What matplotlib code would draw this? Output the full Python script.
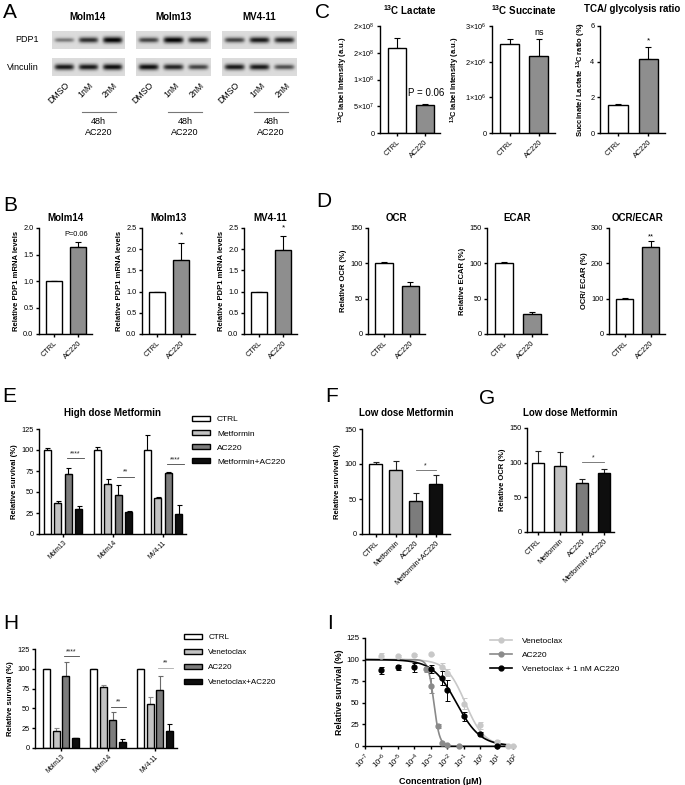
import numpy as np
import matplotlib.pyplot as plt
from matplotlib.lines import Line2D
from matplotlib.patches import Patch

plt.rcParams['font.family'] = ['Liberation Sans', 'DejaVu Sans']
plt.rcParams['mathtext.fontset'] = 'custom'
plt.rcParams['mathtext.rm'] = 'Liberation Sans'
plt.rcParams['mathtext.bf'] = 'Liberation Sans:bold'
plt.rcParams['mathtext.it'] = 'Liberation Sans:italic'
plt.rcParams['axes.linewidth'] = 1.0

# ---- A: western blots (band darkness per lane) ----
blot_cells = ['Molm14', 'Molm13', 'MV4-11']
blot_lanes = ['DMSO', '1nM', '2nM']
pdp1_bands = [[0.45, 0.8, 1.0], [0.7, 1.0, 0.85], [0.7, 0.9, 0.85]]
vinc_bands = [[0.9, 0.9, 0.95], [0.95, 0.85, 0.7], [0.9, 0.9, 0.65]]

# ---- B: PDP1 mRNA ----
two_groups = ['CTRL', 'AC220']
b_molm14 = [1.0, 1.65]
b_molm14_err = [0.0, 0.08]
b_molm13 = [1.0, 1.74]
b_molm13_err = [0.0, 0.41]
b_mv411 = [1.0, 1.97]
b_mv411_err = [0.0, 0.34]
b_notes = ['P=0.06', '*', '*']

# ---- C: 13C tracing ----
c_lactate = [1.58e8, 5.2e7]
c_lactate_err = [1.9e7, 2.5e6]
c_lactate_ticks = [0, 5e7, 1e8, 1.5e8, 2e8]
c_lactate_ticklabels = ['0', r'$5{\times}10^{7}$', r'$1{\times}10^{8}$',
                        r'$2{\times}10^{8}$', r'$2{\times}10^{8}$']
c_succinate = [2.5e6, 2.17e6]
c_succinate_err = [1.4e5, 4.7e5]
c_succinate_ticks = [0, 1e6, 2e6, 3e6]
c_succinate_ticklabels = ['0', r'$1{\times}10^{6}$', r'$2{\times}10^{6}$', r'$3{\times}10^{6}$']
c_ratio = [1.55, 4.15]
c_ratio_err = [0.08, 0.7]

# ---- D: Seahorse ----
d_ocr = [100, 68]
d_ocr_err = [2, 5]
d_ecar = [100, 28]
d_ecar_err = [2.5, 3]
d_ratio = [98, 245]
d_ratio_err = [3, 17]

# ---- E: high dose metformin ----
cells = ['Molm13', 'Molm14', 'MV4-11']
e_series = ['CTRL', 'Metformin', 'AC220', 'Metformin+AC220']
e_ctrl = [100, 100, 100]
e_ctrl_err = [2, 3, 18]
e_met = [37, 60, 43]
e_met_err = [2.5, 5, 1.5]
e_ac = [72, 47, 73]
e_ac_err = [7, 11, 1]
e_combo = [30, 26, 24]
e_combo_err = [3.5, 1, 10]
e_sig = ['****', '**', '****']
e_sig_y = [90, 68, 83]

# ---- F / G: low dose metformin ----
fg_labels = ['CTRL', 'Metformin', 'AC220', 'Metformin+AC220']
f_vals = [100, 92, 47, 72]
f_err = [3.5, 12, 11, 12]
g_vals = [100, 95, 70, 85]
g_err = [17, 21, 7, 5.5]

# ---- H: venetoclax ----
h_series = ['CTRL', 'Venetoclax', 'AC220', 'Venetoclax+AC220']
h_ctrl = [100, 100, 100]
h_ctrl_err = [0, 0, 0]
h_ven = [21, 77, 55]
h_ven_err = [4, 2, 10]
h_ac = [91, 35, 73]
h_ac_err = [18, 10, 18]
h_combo = [12, 7, 21]
h_combo_err = [1, 4, 9]
h_sig = ['****', '**', '**']
h_sig_y = [116, 52, 101]

# ---- I: dose response ----
i_ven_x = [1e-6, 1e-5, 1e-4, 1e-3, 5e-3, 1e-2, 1e-1, 1, 10, 50, 100]
i_ven_y = [104.7, 104, 105.5, 106, 91.5, 85, 49, 24, 5, 0, 0]
i_ven_e = [3, 1, 1, 1, 5, 4, 6, 4, 1.5, 0, 0]
i_ac_x = [5e-4, 1e-3, 2.5e-3, 5e-3, 1e-2, 5e-2]
i_ac_y = [89, 70, 23, 3, 1, 0]
i_ac_e = [3, 9, 2, 1, 0, 0]
i_combo_x = [1e-6, 1e-5, 1e-4, 1e-3, 5e-3, 1e-2, 1e-1, 1, 10]
i_combo_y = [87.5, 91, 91, 89, 79, 64.5, 34.4, 13.7, 0.5]
i_combo_e = [4, 3, 5, 5, 8, 12, 5, 2, 0.5]
# fitted IC50 (uM) and hill slope
i_fits = {'Venetoclax': (0.12, 0.75), 'AC220': (1.5e-3, 2.5), 'Venetoclax + 1 nM AC220': (0.035, 0.6)}

W, H = 685, 785
fig = plt.figure(figsize=(W / 100, H / 100), dpi=100)


def box(l, t, r, b):
    return fig.add_axes([l / W, 1 - b / H, (r - l) / W, (b - t) / H])


def ftext(x, y, s, **kw):
    fig.text(x / W, 1 - y / H, s, **kw)


def style(ax, fs=5.3):
    for s in ['top', 'right']:
        ax.spines[s].set_visible(False)
    ax.tick_params(axis='both', labelsize=fs, length=2.5, width=1.0, pad=1.5)


def bars2(ax, vals, errs, ymax, yticks, ylab, title, pad=5):
    x = np.arange(2)
    ax.bar(x, vals, width=0.65, color=['white', '#8e8e8e'], edgecolor='k', linewidth=1.0, zorder=2)
    ax.errorbar(x, vals, yerr=[np.zeros(2), errs], fmt='none', ecolor='k',
                elinewidth=0.8, capsize=2.5, capthick=0.8, zorder=1)
    ax.set_xlim(-0.6, 1.55)
    ax.set_ylim(0, ymax)
    ax.set_yticks(yticks)
    ax.set_xticks(x)
    ax.set_xticklabels(two_groups, rotation=45, ha='right', rotation_mode='anchor')
    style(ax)
    ax.set_ylabel(ylab, fontsize=5.5, fontweight='bold', labelpad=2)
    ax.set_title(title, fontsize=7, fontweight='bold', pad=pad)


# panel letters
for letter, (lx, ly) in {'A': (3, 3), 'B': (3, 196), 'C': (315, 3), 'D': (316, 192),
                         'E': (2, 387), 'F': (325, 387), 'G': (479, 389), 'H': (3, 614),
                         'I': (327, 614)}.items():
    ftext(lx, ly, letter, fontsize=15, va='top')

# ---- A ----
blot_x = [(52, 124), (136, 211), (222, 297)]
ftext(27, 40, 'PDP1', fontsize=6.5, ha='center', va='center')
ftext(23, 68, 'Vinculin', fontsize=6.5, ha='center', va='center')
xx = np.linspace(0, 3, 150)
yy = np.linspace(0, 1, 30)
X, Y = np.meshgrid(xx, yy)
for k, cell in enumerate(blot_cells):
    l, r = blot_x[k]
    ftext((l + r) / 2, 17, cell, fontsize=7, fontweight='bold', ha='center', va='center')
    for bands, (t, b) in [(pdp1_bands[k], (31, 49)), (vinc_bands[k], (58, 76))]:
        ax = box(l, t, r, b)
        img = np.full(X.shape, 0.86)
        for i, v in enumerate(bands):
            hx = np.exp(-((X - (i + 0.5)) / 0.4) ** 6)
            hy = np.exp(-((Y - 0.5) / (0.08 + 0.1 * v)) ** 2)
            img -= 0.85 * v * hx * hy
        ax.imshow(np.clip(img, 0, 1), cmap='gray', vmin=0, vmax=1, aspect='auto',
                  extent=(0, 3, 0, 1), interpolation='bilinear')
        ax.axis('off')
    lane_w = (r - l) / 3
    for i, lane in enumerate(blot_lanes):
        ftext(l + (i + 0.5) * lane_w + 4, 84, lane, fontsize=6.3, rotation=45,
              ha='right', va='center', rotation_mode='anchor')
    x0 = l + 1.5 * lane_w - 6
    x1 = r - 0.35 * lane_w
    fig.add_artist(Line2D([x0 / W, x1 / W], [1 - 112 / H, 1 - 112 / H], color='#777777', lw=0.8))
    ftext((x0 + x1) / 2, 117, '48h\nAC220', fontsize=6.5, ha='center', va='top', linespacing=1.3)

# ---- B ----
b_sets = [(b_molm14, b_molm14_err, 2.0, 'Molm14', (39, 92)),
          (b_molm13, b_molm13_err, 2.5, 'Molm13', (142, 195)),
          (b_mv411, b_mv411_err, 2.5, 'MV4-11', (244, 297))]
for k, (vals, errs, ymax, name, (l, r)) in enumerate(b_sets):
    ax = box(l, 228, r, 334)
    bars2(ax, vals, errs, ymax, np.arange(0, ymax + 0.01, 0.5),
          'Relative PDP1 mRNA levels', name, pad=5)
    ax.yaxis.set_major_formatter(plt.FormatStrFormatter('%.1f'))
    note = b_notes[k]
    ny = vals[1] + errs[1] + ymax * 0.04
    ax.text(1 if note != 'P=0.06' else 0.9, ny, note, fontsize=5.3 if note != '*' else 6,
            ha='center', va='bottom')

# ---- C ----
ax = box(380, 26, 440, 133)
bars2(ax, c_lactate, c_lactate_err, 2e8, c_lactate_ticks,
      r'$^{\mathbf{13}}$C label Intensity (a.u.)', r'$^{\mathbf{13}}$C Lactate', pad=8)
ax.set_yticklabels(c_lactate_ticklabels)
ax.text(1.05, 7.5e7, 'P = 0.06', fontsize=7, ha='center', va='center')

ax = box(492, 26, 555, 133)
bars2(ax, c_succinate, c_succinate_err, 3e6, c_succinate_ticks,
      r'$^{\mathbf{13}}$C label Intensity (a.u.)', r'$^{\mathbf{13}}$C Succinate', pad=8)
ax.set_yticklabels(c_succinate_ticklabels)
ax.text(1, c_succinate[1] + c_succinate_err[1] + 0.06e6, 'ns', fontsize=6.5, ha='center', va='bottom')

ax = box(600, 26, 665, 133)
bars2(ax, c_ratio, c_ratio_err, 6, [0, 2, 4, 6],
      r'Succinate/ Lactate $^{\mathbf{13}}$C ratio (%)', 'TCA/ glycolysis ratio', pad=10)
ax.text(1, c_ratio[1] + c_ratio_err[1] + 0.1, '*', fontsize=6, ha='center', va='bottom')

# ---- D ----
ax = box(368, 228, 425, 334)
bars2(ax, d_ocr, d_ocr_err, 150, [0, 50, 100, 150], 'Relative OCR (%)', 'OCR')
ax = box(487, 228, 547, 334)
bars2(ax, d_ecar, d_ecar_err, 150, [0, 50, 100, 150], 'Relative ECAR (%)', 'ECAR')
ax = box(609, 228, 665, 334)
bars2(ax, d_ratio, d_ratio_err, 300, [0, 100, 200, 300], 'OCR/ ECAR (%)', 'OCR/ECAR')
ax.text(1, d_ratio[1] + d_ratio_err[1] + 3, '**', fontsize=5.5, ha='center', va='bottom')

four_colors = ['white', '#c2c2c2', '#7c7c7c', '#0e0e0e']


def grouped(ax, series, errs, offs_step, width, xlim, ecolors):
    x = np.arange(3)
    for i, (vals, er) in enumerate(zip(series, errs)):
        xi = x + (i - 1.5) * offs_step
        ax.bar(xi, vals, width=width, color=four_colors[i], edgecolor='k', linewidth=1.0, zorder=2)
        ax.errorbar(xi, vals, yerr=[np.zeros(3), er], fmt='none', ecolor=ecolors[i],
                    elinewidth=0.8, capsize=1.8, capthick=0.8, zorder=1)
    ax.set_xlim(*xlim)
    ax.set_ylim(0, 125)
    ax.set_yticks([0, 25, 50, 75, 100, 125])
    ax.set_xticks(x)
    ax.set_xticklabels(cells, rotation=45, ha='right', rotation_mode='anchor')
    style(ax)
    ax.tick_params(axis='x', labelsize=4.7)
    ax.set_ylabel('Relative survival (%)', fontsize=5.5, fontweight='bold', labelpad=2)


def sig(ax, x0, x1, y, s, color='#444444'):
    ax.plot([x0, x1], [y, y], color=color, lw=0.6)
    ax.text((x0 + x1) / 2, y + 1.5, s, fontsize=5, ha='center', va='bottom', color='#222222')


# ---- E ----
ax = box(39, 429, 186, 534)
grouped(ax, [e_ctrl, e_met, e_ac, e_combo], [e_ctrl_err, e_met_err, e_ac_err, e_combo_err],
        0.213, 0.14, (-0.48, 2.46), ['k', 'k', 'k', 'k'])
ax.set_title('High dose Metformin', fontsize=7, fontweight='bold', pad=9)
for g in range(3):
    sig(ax, g + 0.08, g + 0.42, e_sig_y[g], e_sig[g])
fig.legend([Patch(facecolor=c, edgecolor='k', lw=1.0) for c in four_colors], e_series,
           loc='upper left', bbox_to_anchor=(192 / W, 1 - 416 / H), frameon=False, fontsize=6,
           handlelength=2.2, handleheight=0.55, labelspacing=0.8, handletextpad=0.8,
           borderaxespad=0, borderpad=0)

# ---- F / G ----


def four_bars(ax, vals, errs, width, xlim, ylab):
    x = np.arange(4)
    ax.bar(x, vals, width=width, color=four_colors, edgecolor='k', linewidth=1.0, zorder=2)
    ax.errorbar(x, vals, yerr=[np.zeros(4), errs], fmt='none', ecolor='#222222',
                elinewidth=0.8, capsize=2.5, capthick=0.8, zorder=1)
    ax.set_xlim(*xlim)
    ax.set_ylim(0, 150)
    ax.set_yticks([0, 50, 100, 150])
    ax.set_xticks(x)
    ax.set_xticklabels(fg_labels, rotation=45, ha='right', rotation_mode='anchor')
    style(ax)
    ax.set_ylabel(ylab, fontsize=5.5, fontweight='bold', labelpad=2)
    ax.set_title('Low dose Metformin', fontsize=7, fontweight='bold', pad=9)


ax = box(362, 429, 450, 534)
four_bars(ax, f_vals, f_err, 0.65, (-0.68, 3.72), 'Relative survival (%)')
sig(ax, 2, 3, 91, '*', color='#666666')
ax = box(527, 428, 614, 532)
four_bars(ax, g_vals, g_err, 0.57, (-0.5, 3.45), 'Relative OCR (%)')
sig(ax, 2, 3, 101, '*', color='#666666')

# ---- H ----
ax = box(35, 649, 177, 748)
grouped(ax, [h_ctrl, h_ven, h_ac, h_combo], [h_ctrl_err, h_ven_err, h_ac_err, h_combo_err],
        0.205, 0.15, (-0.55, 2.47), ['k', '#8a8a8a', '#6a6a6a', 'k'])
for g in range(3):
    sig(ax, g + 0.06, g + 0.38, h_sig_y[g], h_sig[g], color='#444444' if g < 2 else '#aaaaaa')
fig.legend([Patch(facecolor=c, edgecolor='k', lw=1.0) for c in four_colors], h_series,
           loc='upper left', bbox_to_anchor=(184 / W, 1 - 634 / H), frameon=False, fontsize=5.8,
           handlelength=2.2, handleheight=0.55, labelspacing=0.95, handletextpad=0.8,
           borderaxespad=0, borderpad=0)

# ---- I ----
ax = box(365, 638, 515, 746)
xs = np.logspace(-7, 1.7, 300)
i_sets = [('Venetoclax', i_ven_x, i_ven_y, i_ven_e, '#c8c8c8'),
          ('AC220', i_ac_x, i_ac_y, i_ac_e, '#8a8a8a'),
          ('Venetoclax + 1 nM AC220', i_combo_x, i_combo_y, i_combo_e, '#000000')]
for name, px, py, pe, col in i_sets:
    ic50, hill = i_fits[name]
    ax.plot(xs, 100 / (1 + (xs / ic50) ** hill), color=col, lw=1.2, zorder=2)
    ax.errorbar(px, py, yerr=pe, fmt='o', ms=3.5, color=col, ecolor=col, elinewidth=0.7,
                capsize=1.8, capthick=0.7, clip_on=False, zorder=3)
ax.set_xscale('log')
ax.set_xlim(1e-7, 1.25e2)
ax.set_ylim(0, 125)
ax.set_yticks([0, 25, 50, 75, 100, 125])
ax.set_xticks([10.0 ** k for k in range(-7, 3)])
ax.set_xticklabels([r'$10^{%d}$' % k for k in range(-7, 3)], rotation=45, ha='right',
                   rotation_mode='anchor')
ax.minorticks_off()
style(ax, fs=5.6)
ax.set_ylabel('Relative survival (%)', fontsize=6.3, fontweight='bold', labelpad=2)
ax.set_xlabel('Concentration (µM)', fontsize=6.5, fontweight='bold', labelpad=4)
fig.legend([Line2D([0], [0], color=c, marker='o', ms=3.5, lw=1.2) for _, _, _, _, c in i_sets],
           [s[0] for s in i_sets], loc='upper left', bbox_to_anchor=(490 / W, 1 - 637 / H),
           frameon=False, fontsize=6, handlelength=2.6, labelspacing=0.75, handletextpad=1.2,
           borderaxespad=0, borderpad=0)

fig.savefig('out.png', dpi=100)
